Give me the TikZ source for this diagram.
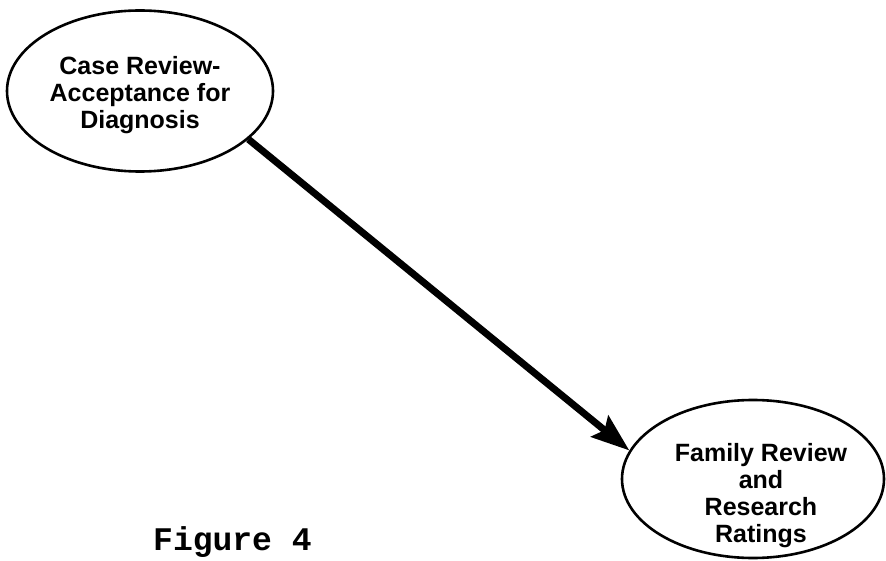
\documentclass[tikz,border=0pt]{standalone}
\usepackage{fontspec}
\setmainfont{Liberation Sans}
\setmonofont{Liberation Mono}
\usetikzlibrary{arrows.meta,shapes.geometric}

\tikzset{
  bubble/.style={draw, ellipse, line width=2.6pt, inner sep=0pt},
  bubbletext/.style={align=center, inner sep=0pt, anchor=north,
    font=\fontsize{25}{27}\selectfont\bfseries},
  flow/.style={line width=7pt,
    -{Stealth[length=38pt,width=27pt,inset=6pt]}},
  caption/.style={anchor=base west, inner sep=0pt,
    font=\fontsize{33}{38}\selectfont\ttfamily\bfseries}
}

\begin{document}
\begin{tikzpicture}[x=1pt,y=1pt]
  \fill[white] (0,0) rectangle (886,560);
  \useasboundingbox (0,0) rectangle (886,560);

  % the two stages
  \node[bubble, minimum width=266pt, minimum height=161pt] (e1) at (140,469) {};
  \node[bubble, minimum width=262pt, minimum height=158pt] (e2) at (753,81) {};

  \node[bubbletext] (t1) at (140,503.5) {Case Review-\\Acceptance for\\Diagnosis};
  \node[bubbletext] (t2) at (761,116.5) {Family Review\\and\\Research\\Ratings};

  % transition between the stages
  \draw[flow] (e1.-24.5) -- (e2.167);

  \node[caption] (cap) at (153,10) {Figure 4};
\end{tikzpicture}
\end{document}
